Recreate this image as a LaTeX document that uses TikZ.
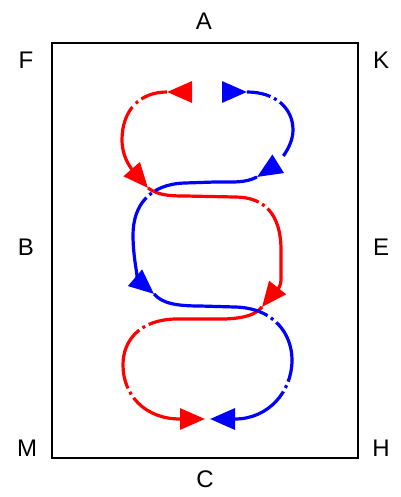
\documentclass[tikz,border=0pt]{standalone}
\usepackage{fontspec}
\setmainfont{Liberation Sans}
\usetikzlibrary{arrows.meta}

\begin{document}
\begin{tikzpicture}[x=1pt,y=-1pt,
    lbl/.style={font=\fontsize{24}{24}\selectfont, inner sep=0pt},
    flow/.style={line width=3.2pt, line join=round, -{Triangle[length=25pt,width=21pt]}},
    redflow/.style={flow, red},
    blueflow/.style={flow, blue}]
    \useasboundingbox (0,0) rectangle (400,497);
    \draw[line width=2pt] (52,43) rectangle (358,458);

    % corner and side labels
    \node[lbl] (A) at (204,21) {A};
    \node[lbl] (F) at (26,60) {F};
    \node[lbl] (K) at (381,60) {K};
    \node[lbl] (B) at (26,247) {B};
    \node[lbl] (E) at (381,247) {E};
    \node[lbl] (M) at (27,448) {M};
    \node[lbl] (H) at (381,448) {H};
    \node[lbl] (C) at (205,479) {C};

    % red path
    \draw[redflow] (190,92) -- (167,92);
    \draw[redflow, dash pattern=on 27pt off 4pt on 3pt off 5pt on 300pt]
        (167,92) .. controls (140,92) and (122,110) .. (122,140)
        .. controls (122,160) and (135,173) .. (148,188);
    \draw[redflow, dash pattern=on 113pt off 4pt on 3pt off 4pt on 300pt]
        (148,188) .. controls (158,195) and (168,196) .. (185,196) -- (235,197)
        .. controls (265,197) and (281,215) .. (281,250) -- (281,280)
        .. controls (281,290) and (270,297) .. (262,307);
    \draw[redflow, dash pattern=on 117pt off 4pt on 3pt off 4pt on 64pt off 4pt on 3pt off 4pt on 300pt]
        (262,307) .. controls (255,315) and (245,318) .. (225,319) -- (175,319)
        .. controls (140,320) and (123,340) .. (123,365)
        .. controls (123,395) and (145,419) .. (180,419) -- (205,419);

    % blue path
    \draw[blueflow] (222,92) -- (247,92);
    \draw[blueflow, dash pattern=on 24pt off 4pt on 3pt off 4pt on 60pt off 50pt]
        (247,92) .. controls (275,92) and (293,108) .. (293,130)
        .. controls (293,150) and (273,167) .. (257,177);
    \draw[blueflow, dash pattern=on 104pt off 4pt on 3pt off 4pt on 300pt]
        (257,177) .. controls (245,183) and (235,182) .. (215,182) -- (185,183)
        .. controls (150,184) and (133,205) .. (133,235)
        .. controls (133,262) and (140,282) .. (154,294);
    \draw[blueflow, dash pattern=on 118pt off 4pt on 3pt off 4pt on 64pt off 4pt on 3pt off 4pt on 300pt]
        (154,294) .. controls (162,303) and (175,306) .. (200,306) -- (235,307)
        .. controls (275,308) and (292,335) .. (292,360)
        .. controls (292,392) and (268,419) .. (235,419) -- (210,419);
\end{tikzpicture}
\end{document}
